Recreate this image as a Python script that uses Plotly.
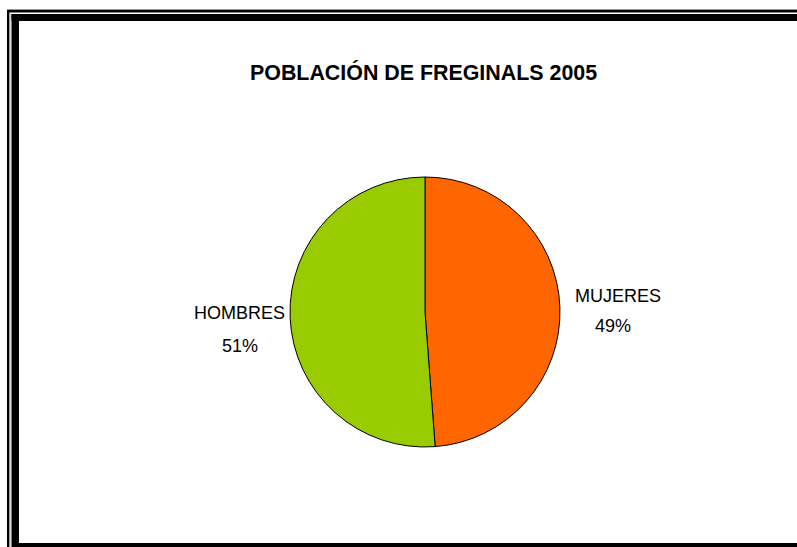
import plotly.graph_objects as go

title_text = "POBLACIÓN DE FREGINALS 2005"
categories = ["MUJERES", "HOMBRES"]
values = [48.8, 51.2]
pct_labels = ["49%", "51%"]
colors = ["#FF6600", "#99CC00"]

W, H = 797, 547

fig = go.Figure()
fig.add_trace(go.Pie(
    labels=categories,
    values=values,
    sort=False,
    direction="clockwise",
    rotation=0,
    marker=dict(colors=colors, line=dict(color="black", width=1)),
    textinfo="none",
    hoverinfo="label+percent",
    showlegend=False,
    domain=dict(x=[290 / W, 560 / W], y=[(H - 447) / H, (H - 177) / H]),
))

def px(x):
    return x / W

def py(y):
    return 1 - y / H

shapes = []
def rect(x0, y0, x1, y1, color):
    shapes.append(dict(type="rect", xref="paper", yref="paper",
                       x0=px(x0), x1=px(x1), y0=py(y1), y1=py(y0),
                       fillcolor=color, line=dict(width=0), layer="above"))

# outer thin frame
rect(7, 9, W, 10, "#999999")
rect(7, 10, W, 12.5, "black")
rect(7, 10, 9.5, H, "black")
rect(9.5, 12.5, 10.5, H, "#bbbbbb")
# thick inner frame
rect(11.5, 14, W, 21, "black")
rect(11.5, 14, 19, H, "black")
rect(19, 543, W, H, "black")

FONT = "Liberation Sans, Arial"
annotations = [
    dict(text="<b>" + title_text + "</b>", x=px(423), y=py(72), xref="paper", yref="paper",
         showarrow=False, font=dict(family=FONT, size=21.4, color="black"),
         xanchor="center", yanchor="middle"),
    dict(text=categories[0], x=px(618), y=py(296), xref="paper", yref="paper",
         showarrow=False, font=dict(family=FONT, size=18, color="black"),
         xanchor="center", yanchor="middle"),
    dict(text=pct_labels[0], x=px(613), y=py(326), xref="paper", yref="paper",
         showarrow=False, font=dict(family=FONT, size=18, color="black"),
         xanchor="center", yanchor="middle"),
    dict(text=categories[1], x=px(240), y=py(313), xref="paper", yref="paper",
         showarrow=False, font=dict(family=FONT, size=18, color="black"),
         xanchor="center", yanchor="middle"),
    dict(text=pct_labels[1], x=px(240), y=py(346), xref="paper", yref="paper",
         showarrow=False, font=dict(family=FONT, size=18, color="black"),
         xanchor="center", yanchor="middle"),
]

fig.update_layout(
    width=W, height=H,
    margin=dict(l=0, r=0, t=0, b=0),
    paper_bgcolor="white",
    plot_bgcolor="white",
    shapes=shapes,
    annotations=annotations,
)

fig.write_html("out.html", config={"displayModeBar": False},
               post_script="document.body.style.margin='0';document.body.style.overflow='hidden';")
